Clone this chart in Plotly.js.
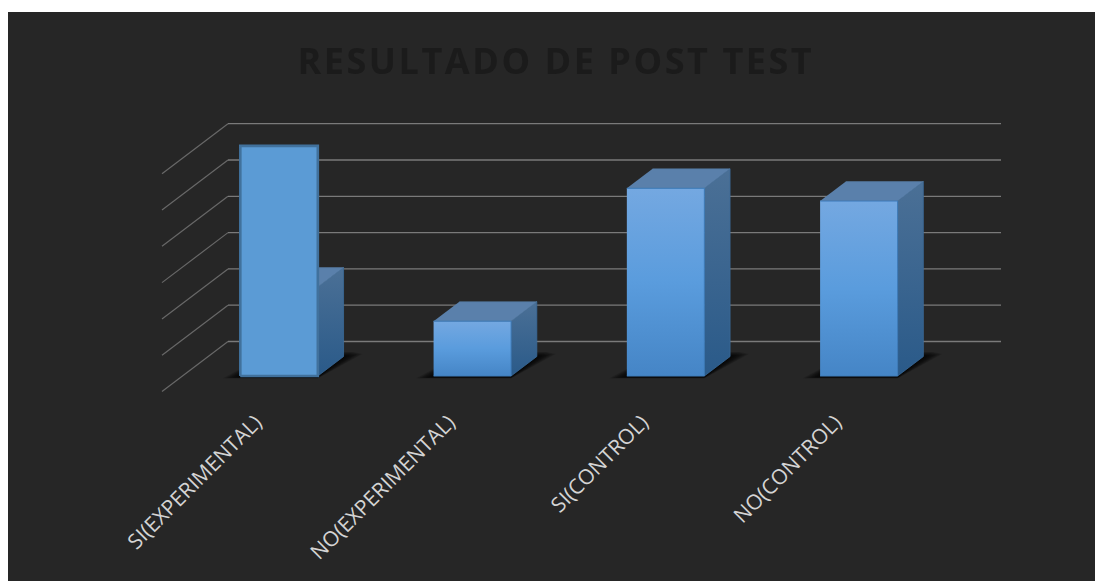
<!DOCTYPE html>
<html>
<head>
<meta charset="utf-8">
<script src="https://cdn.plot.ly/plotly-3.0.1.min.js"></script>
<style>
html,body{margin:0;padding:0;background:#fff;overflow:hidden}
#chart{position:absolute;left:8px;top:12px;width:1087px;height:569px}
.gtitle{letter-spacing:2.55px;filter:blur(0.5px)}
</style>
</head>
<body>
<div id="chart"></div>
<script>
// Data (one gridline step = 10 units)
const categories = ["SI(EXPERIMENTAL)", "NO(EXPERIMENTAL)", "SI(CONTROL)", "NO(CONTROL)"];
const solidValues = [24.5, 15.1, 51.7, 48.2];   // height of the 3-D bodies
const pastedFrontValue = [63.4, null, null, null]; // flat outlined face in front of bar 1
const gridValues = [0, 10, 20, 30, 40, 50, 60];
const title = "RESULTADO DE POST TEST";

// Oblique projection, in axis units per unit of depth
const depthX = 0.3415, depthY = 13.77;
const zFront = 0.31, zDepth = 0.39, halfW = 0.2005;
const px = (x, z) => x + z * depthX;
const py = (v, z) => v + z * depthY;

const traces = [];
function poly(points, style) {
  traces.push(Object.assign({
    type: "scatter", mode: "lines", fill: "toself", hoverinfo: "skip", showlegend: false,
    x: points.map(p => px(p[0], p[2])), y: points.map(p => py(p[1], p[2])),
    line: {width: 0}
  }, style));
}
function line(points, color, width) {
  traces.push({type: "scatter", mode: "lines", hoverinfo: "skip", showlegend: false,
    x: points.map(p => px(p[0], p[2])), y: points.map(p => py(p[1], p[2])),
    line: {color: color, width: width}});
}

// Walls: back gridlines and slanted side-wall lines
const xLeft = -0.5, xRight = 3.5;
gridValues.forEach(v => {
  line([[xLeft, v, 0], [xLeft, v, 1]], "#686868", 1.2);
  line([[xLeft, v, 1], [xRight, v, 1]], "#7a7a7a", 1.3);
});

// Soft floor shadows
categories.forEach((c, i) => {
  const l = i - halfW, r = i + halfW;
  [0.1, 0.088, 0.076, 0.064, 0.052, 0.04, 0.028, 0.016, 0.004].forEach(g => {
    poly([
      [l - g * 0.9, -0.25 - g * 4, zFront],
      [r, -0.25 - g * 4, zFront],
      [r + g * 0.8, 0, zFront + zDepth + g * 0.5],
      [r + g * 0.2, 0, zFront + zDepth + g * 0.9],
      [l, 0, zFront + zDepth + g * 0.9]
    ], {fillcolor: "rgba(0,0,0,0.15)"});
  });
});

// Bars
solidValues.forEach((v, i) => {
  const l = i - halfW, r = i + halfW;
  const z0 = zFront, z1 = zFront + zDepth;
  poly([[r, 0, z0], [r, 0, z1], [r, v, z1], [r, v, z0]], {
    fillgradient: {type: "vertical", colorscale: [[0, "#2A5A89"], [1, "#4B7096"]]},
    line: {width: 0.8, color: "#3A6A98"}
  });
  poly([[l, v, z0], [r, v, z0], [r, v, z1], [l, v, z1]], {
    fillcolor: "#5A80AB", line: {width: 0.6, color: "#54789F"}
  });
  poly([[l, 0, z0], [r, 0, z0], [r, v, z0], [l, v, z0]], {
    fillgradient: {type: "vertical", colorscale: [[0, "#4585C6"], [0.5, "#5A9CDD"], [1, "#74A8E1"]]},
    line: {width: 1, color: "#3F7DBB"}
  });
});

// Flat outlined face on the first bar
pastedFrontValue.forEach((v, i) => {
  if (v === null) return;
  const l = i - halfW, r = i + halfW;
  poly([[l, 0, zFront], [r, 0, zFront], [r, v, zFront], [l, v, zFront], [l, 0, zFront]], {
    fillcolor: "#5B9BD5", line: {width: 2.6, color: "#41719C"}
  });
});

const layout = {
  width: 1087, height: 569,
  paper_bgcolor: "#262626", plot_bgcolor: "#262626",
  margin: {l: 142, r: 85, t: 98, b: 181, pad: 0},
  showlegend: false,
  title: {
    text: title, xref: "container", yref: "container",
    x: 0.504, xanchor: "center", y: 0.913, yanchor: "middle",
    font: {family: "Open Sans", size: 36, weight: 700, color: "#1B1B1B"}
  },
  xaxis: {
    range: [-0.562, 3.888], tickmode: "array", tickvals: [0, 1, 2, 3], ticktext: categories,
    tickangle: -45, showgrid: false, zeroline: false, showline: false, ticks: "",
    ticklabelstandoff: 5, ticklabelshift: -3,
    tickfont: {family: "Open Sans", size: 21, color: "#D4D4D4"}, automargin: false
  },
  yaxis: {range: [-2.34, 77.55], visible: false, showgrid: false, zeroline: false}
};
Plotly.newPlot("chart", traces, layout, {staticPlot: true, displayModeBar: false});
</script>
</body>
</html>
